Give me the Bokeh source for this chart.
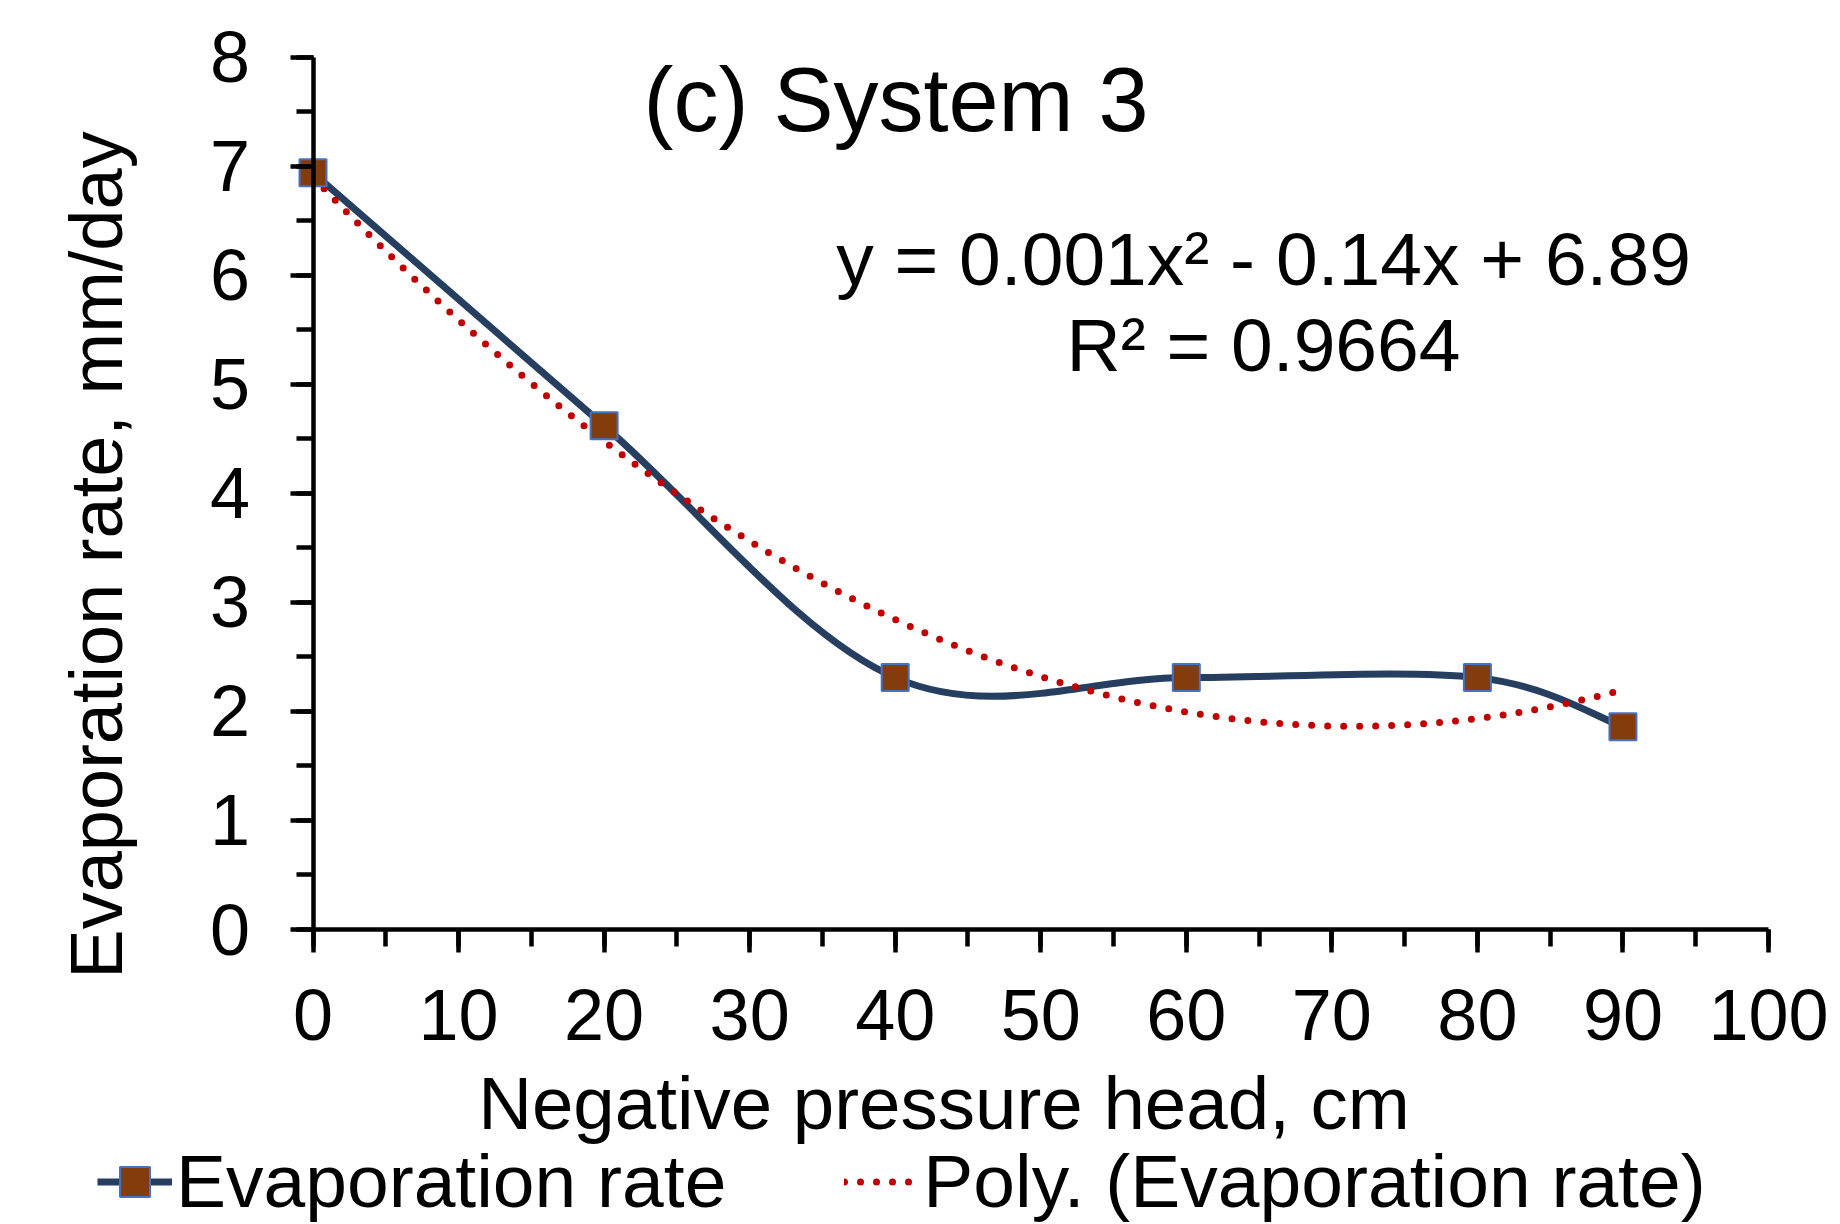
import numpy as np
from bokeh.plotting import figure
from bokeh.models import (Range1d, SingleIntervalTicker, Label, Legend, LegendItem,
                          ColumnDataSource, LinearAxis)
from bokeh.embed import file_html
from bokeh.resources import INLINE

# ---- data ----
pressure_head = [0, 20, 40, 60, 80, 90]             # cm
evaporation = [6.94, 4.62, 2.31, 2.31, 2.31, 1.86]  # mm/day
x_ticks_interval = 10
y_ticks_interval = 1
x_axis_bounds = (0, 100)
y_axis_bounds = (0, 8)
title_text = "(c) System 3"
equation_text = "y = 0.001x² - 0.14x + 6.89"
r2_text = "R² = 0.9664"
x_label = "Negative pressure head, cm"
y_label = "Evaporation rate, mm/day"
series_name = "Evaporation rate"
trend_name = "Poly. (Evaporation rate)"

FONT = "Liberation Sans"

# ---- layout: the frame covers the whole canvas, axes sit at fixed positions ----
W, H = 1840, 1224
PX_X0, PX_X100 = 312.5, 1768.0     # pixel columns of x=0 and x=100
PX_Y0, PX_Y8 = 929.0, 56.7         # pixel rows of y=0 and y=8
sx = (PX_X100 - PX_X0) / (x_axis_bounds[1] - x_axis_bounds[0])
sy = (PX_Y0 - PX_Y8) / (y_axis_bounds[1] - y_axis_bounds[0])
x_start = -PX_X0 / sx
x_end = (W - PX_X0) / sx
y_start = -(H - PX_Y0) / sy
y_end = PX_Y0 / sy


def X(px):
    return (px - PX_X0) / sx


def Y(py):
    return (PX_Y0 - py) / sy


p = figure(width=W, height=H, output_backend="svg", toolbar_location=None,
           x_range=Range1d(x_start, x_end), y_range=Range1d(y_start, y_end),
           x_axis_type=None, y_axis_type=None,
           min_border=0, min_border_left=0, min_border_right=0,
           min_border_top=0, min_border_bottom=0)
p.outline_line_color = None
p.background_fill_color = "white"
p.border_fill_color = "white"

xaxis = LinearAxis(fixed_location=0, bounds=x_axis_bounds,
                   ticker=SingleIntervalTicker(interval=x_ticks_interval, num_minor_ticks=2))
yaxis = LinearAxis(fixed_location=0, bounds=y_axis_bounds,
                   ticker=SingleIntervalTicker(interval=y_ticks_interval, num_minor_ticks=2))
for ax in (xaxis, yaxis):
    ax.axis_line_width = 4.5
    ax.axis_line_color = "black"
    ax.major_tick_line_width = 4.5
    ax.minor_tick_line_width = 4.5
    ax.major_tick_line_color = "black"
    ax.minor_tick_line_color = "black"
    ax.major_tick_in = 0
    ax.minor_tick_in = 0
    ax.major_tick_out = 23
    ax.minor_tick_out = 17
    ax.major_label_text_font = FONT
    ax.major_label_text_font_size = "72px"
    ax.major_label_text_color = "black"
xaxis.major_label_standoff = 37
yaxis.major_label_standoff = 40
p.add_layout(xaxis, "below")
p.add_layout(yaxis, "left")

# ---- smoothed series line (Catmull-Rom style bezier, like Excel smoothing) ----
xs = np.array(pressure_head, dtype=float)
ys = np.array(evaporation, dtype=float)
n = len(xs)
x0, y0, x1, y1, cx0, cy0, cx1, cy1 = ([] for _ in range(8))
for i in range(n - 1):
    im1 = max(i - 1, 0)
    ip2 = min(i + 2, n - 1)
    x0.append(xs[i]); y0.append(ys[i])
    x1.append(xs[i + 1]); y1.append(ys[i + 1])
    cx0.append(xs[i] + (xs[i + 1] - xs[im1]) / 6.0)
    cy0.append(ys[i] + (ys[i + 1] - ys[im1]) / 6.0)
    cx1.append(xs[i + 1] - (xs[ip2] - xs[i]) / 6.0)
    cy1.append(ys[i + 1] - (ys[ip2] - ys[i]) / 6.0)
bez_src = ColumnDataSource(dict(x0=x0, y0=y0, x1=x1, y1=y1,
                                cx0=cx0, cy0=cy0, cx1=cx1, cy1=cy1))
LINE_COL = "#263F61"
r_line = p.bezier(x0="x0", y0="y0", x1="x1", y1="y1", cx0="cx0", cy0="cy0",
                  cx1="cx1", cy1="cy1", source=bez_src,
                  line_color=LINE_COL, line_width=7)

# ---- polynomial (order 2) trendline drawn as an exact quadratic curve ----
a, b, c = np.polyfit(xs, ys, 2)
tx0, tx1 = xs.min(), xs.max()
f = lambda t: a * t * t + b * t + c
tcx = (tx0 + tx1) / 2.0
tcy = f(tx0) + (2 * a * tx0 + b) * (tx1 - tx0) / 2.0
r_trend = p.quadratic(x0=[tx0], y0=[f(tx0)], x1=[tx1], y1=[f(tx1)],
                      cx=[tcx], cy=[tcy], line_color="#C00000", line_width=7,
                      line_dash="0 16", line_cap="round")

r_pts = p.scatter(xs, ys, marker="square", size=27, fill_color="#843C0C",
                  line_color="#4472C4", line_width=2)

# ---- texts (anchor = baseline - 0.355 em, as rendered by Bokeh) ----
def lab(px, py_base, text, fs, align="left", angle=0.0):
    if angle == 0.0:
        ax_, ay_ = px, py_base - 0.355 * fs
    else:
        ax_, ay_ = px - 0.355 * fs, py_base
    p.add_layout(Label(x=X(ax_), y=Y(ay_), text=text, text_font=FONT,
                       text_font_size=f"{fs}px", text_color="black",
                       text_align=align, text_baseline="alphabetic", angle=angle))


lab(643, 131, title_text, 90)
lab(1263, 285, equation_text, 75, align="center")
lab(1263, 371, r2_text, 75, align="center")
lab(943.5, 1129, x_label, 74.5, align="center")
lab(122, 554.5, y_label, 74, align="center", angle=np.pi / 2)

# ---- legend ----
legend = Legend(items=[LegendItem(label=series_name, renderers=[r_line, r_pts]),
                       LegendItem(label=trend_name, renderers=[r_trend])],
                orientation="horizontal", location=(97, 0),
                label_text_font=FONT, label_text_font_size="75px",
                label_text_color="black",
                glyph_width=75, glyph_height=75, label_standoff=4, spacing=118,
                padding=0, margin=0, border_line_color=None,
                background_fill_alpha=0)
p.add_layout(legend, "center")

open("out.html", "w").write(file_html(p, INLINE))
